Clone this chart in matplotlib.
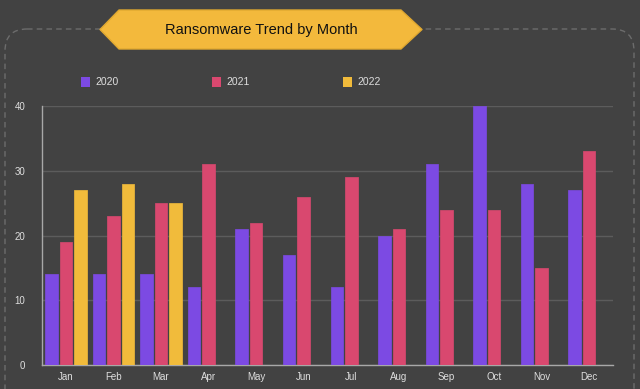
import matplotlib
matplotlib.use("Agg")
import matplotlib.pyplot as plt
import numpy as np
from matplotlib.patches import FancyBboxPatch, Polygon, Rectangle

# ---------------------------------------------------------------------------
# data
# ---------------------------------------------------------------------------
months = ["Jan", "Feb", "Mar", "Apr", "May", "Jun",
          "Jul", "Aug", "Sep", "Oct", "Nov", "Dec"]
years = ["2020", "2021", "2022"]
v2020 = [14, 14, 14, 12, 21, 17, 12, 20, 31, 40, 28, 27]
v2021 = [19, 23, 25, 31, 22, 26, 29, 21, 24, 24, 15, 33]
v2022 = [27, 28, 25]  # only Jan-Mar reported
yticks = [0, 10, 20, 30, 40]

colors = ["#7c4ae3", "#d9486f", "#f1bb3b"]
bg = "#424242"
txt = "#dedede"

plt.rcParams["font.family"] = ["Liberation Sans", "DejaVu Sans"]

fig = plt.figure(figsize=(6.4, 3.89), dpi=100, facecolor=bg)

# pixel-space overlay for frame, banner and legend
bgax = fig.add_axes([0, 0, 1, 1], zorder=0)
bgax.set_xlim(0, 640)
bgax.set_ylim(389, 0)
bgax.axis("off")
bgax.set_facecolor(bg)

frame = FancyBboxPatch((5, 29), 629, 420, boxstyle="round,pad=0,rounding_size=22",
                       fill=False, edgecolor="#6c6c6c", linestyle=(0, (4, 3)), lw=1)
bgax.add_patch(frame)

banner = Polygon([(100, 29.5), (119, 10), (401, 10), (422, 29.5), (401, 49), (119, 49)],
                 closed=True, facecolor="#f3b93c", edgecolor="#e0a830", lw=1,
                 joinstyle="round", zorder=3)
bgax.add_patch(banner)
bgax.text(261, 30, "Ransomware Trend by Month", ha="center", va="center",
          fontsize=10.5, color="#111111", zorder=4)

leg_x = [81, 212, 343]
for x, c, lbl in zip(leg_x, colors, years):
    bgax.add_patch(Rectangle((x, 77), 8.5, 10, facecolor=c, edgecolor="none"))
    bgax.text(x + 14, 82, lbl, ha="left", va="center", fontsize=7.5, color=txt)

# ---------------------------------------------------------------------------
# bars
# ---------------------------------------------------------------------------
ax = fig.add_axes([42 / 640, 24 / 389, 571 / 640, 259 / 389], zorder=1)
ax.set_facecolor("none")

x = np.arange(len(months))
slot = 0.305
w = 0.262
series = [v2020, v2021, v2022]
for i, (vals, c) in enumerate(zip(series, colors)):
    xs = x[:len(vals)] - slot + i * slot
    ax.bar(xs, vals, width=w, color=c, edgecolor=c, lw=0.5,
           joinstyle="round", zorder=3)

ax.set_xlim(-0.5, len(months) - 0.5)
ax.set_ylim(0, 40)
ax.set_yticks(yticks)
ax.set_xticks(x)
ax.set_xticklabels(months)
ax.tick_params(length=0, colors=txt, labelsize=7)
ax.tick_params(axis="y", pad=12)
ax.tick_params(axis="x", pad=5)
ax.grid(axis="y", color="#5c5c5c", lw=1, zorder=0)

for side in ["top", "right"]:
    ax.spines[side].set_visible(False)
for side in ["left", "bottom"]:
    ax.spines[side].set_color("#a8a8a8")
    ax.spines[side].set_linewidth(1)

fig.savefig("out.png", dpi=100, facecolor=bg)
